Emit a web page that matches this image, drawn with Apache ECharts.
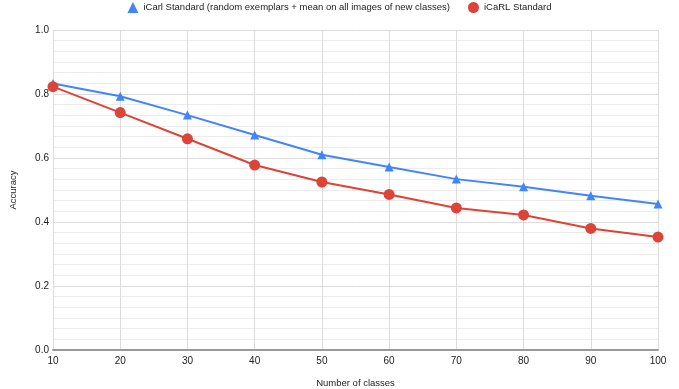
<!DOCTYPE html>
<html>
<head>
<meta charset="utf-8">
<script src="https://cdn.jsdelivr.net/npm/echarts@6/dist/echarts.min.js"></script>
<style>
  html, body { margin: 0; padding: 0; background: #fff; }
  #chart { width: 679px; height: 389px; }
</style>
</head>
<body>
<div id="chart"></div>
<script>
// Number of classes seen so far
const classes = [10, 20, 30, 40, 50, 60, 70, 80, 90, 100];
// Accuracy of the two iCaRL variants
const randomExemplars = [0.833, 0.793, 0.734, 0.672, 0.610, 0.572, 0.534, 0.510, 0.482, 0.456];
const standard = [0.823, 0.742, 0.660, 0.578, 0.525, 0.486, 0.444, 0.422, 0.380, 0.353];

const nameA = 'iCarl Standard (random exemplars + mean on all images of new classes)';
const nameB = 'iCaRL Standard';

const pairs = (ys) => classes.map((x, i) => [x, ys[i]]);
const font = 'Liberation Sans, Arial, sans-serif';
const fs = 9.5;

const chart = echarts.init(document.getElementById('chart'));
chart.setOption({
  animation: false,
  textStyle: { fontFamily: font },
  legend: {
    top: -3,
    left: 'center',
    itemGap: 18,
    itemWidth: 11,
    itemHeight: 11,
    textStyle: { fontSize: fs, color: '#222', fontFamily: font },
    data: [
      { name: nameA, icon: 'triangle', itemStyle: { color: '#4285F4' } },
      { name: nameB, icon: 'circle', itemStyle: { color: '#DB4437' } }
    ]
  },
  grid: { left: 53, right: 21, top: 30, bottom: 39, outerBoundsMode: 'none', containLabel: false },
  xAxis: {
    type: 'value',
    min: 10,
    max: 100,
    interval: 10,
    name: 'Number of classes',
    nameLocation: 'middle',
    nameGap: 28,
    nameTextStyle: { fontSize: fs, color: '#222' },
    axisLine: { show: true, lineStyle: { color: '#999', width: 2 } },
    axisTick: { show: false },
    axisLabel: { fontSize: 10, color: '#222', margin: 6 },
    splitLine: { show: true, lineStyle: { color: '#dcdcdc', width: 1 } }
  },
  yAxis: {
    type: 'value',
    min: 0,
    max: 1,
    interval: 0.2,
    name: 'Accuracy',
    nameLocation: 'middle',
    nameGap: 35,
    nameTextStyle: { fontSize: fs, color: '#222' },
    axisLine: { show: false },
    axisTick: { show: false },
    axisLabel: { fontSize: 10, color: '#222', margin: 4, formatter: (v) => v.toFixed(1) },
    splitLine: { show: true, lineStyle: { color: '#dcdcdc', width: 1 } },
    minorTick: { show: false, splitNumber: 6 },
    minorSplitLine: { show: true, lineStyle: { color: '#ececec', width: 1 } }
  },
  series: [
    {
      name: nameA,
      type: 'line',
      data: pairs(randomExemplars),
      symbol: 'triangle',
      symbolSize: 9,
      color: '#4285F4',
      lineStyle: { width: 2 },
      z: 2
    },
    {
      name: nameB,
      type: 'line',
      data: pairs(standard),
      symbol: 'circle',
      symbolSize: 11,
      color: '#DB4437',
      lineStyle: { width: 2 },
      z: 3
    }
  ]
});
</script>
</body>
</html>
